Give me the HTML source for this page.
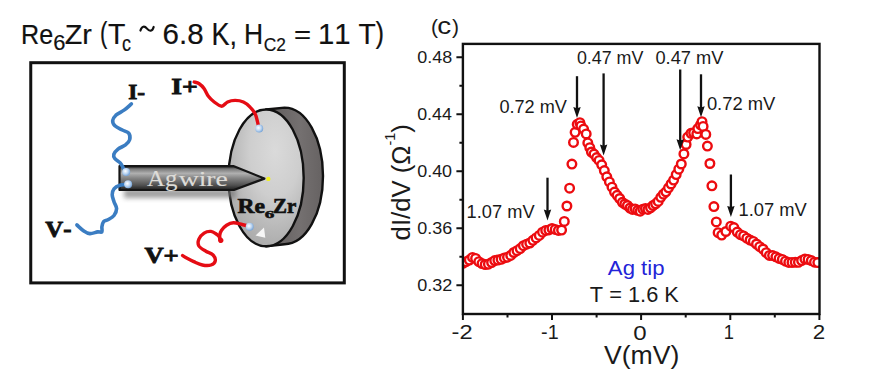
<!DOCTYPE html>
<html><head><meta charset="utf-8"><style>
html,body{margin:0;padding:0;background:#fff;width:892px;height:377px;overflow:hidden}
svg{display:block}
text{font-kerning:none}
</style></head><body>
<svg width="892" height="377" viewBox="0 0 892 377">
<rect width="892" height="377" fill="#fff"/>
<text transform="translate(21.04,43.83) scale(0.8932,1)" font-family='"Liberation Sans",sans-serif' font-size="28.09" fill="#111" stroke="#111" stroke-width="0.2">Re</text>
<text transform="translate(53.29,50.39) scale(1.0129,1)" font-family='"Liberation Sans",sans-serif' font-size="21.61" fill="#111" stroke="#111" stroke-width="0.2">6</text>
<text transform="translate(64.79,43.90) scale(1.0178,1)" font-family='"Liberation Sans",sans-serif' font-size="28.20" fill="#111" stroke="#111" stroke-width="0.2">Zr</text>
<text transform="translate(99.92,43.38) scale(0.7404,1)" font-family='"Liberation Sans",sans-serif' font-size="30.05" fill="#111" stroke="#111" stroke-width="0.2">(</text>
<text transform="translate(107.96,44.00) scale(0.9894,1)" font-family='"Liberation Sans",sans-serif' font-size="28.78" fill="#111" stroke="#111" stroke-width="0.2">T</text>
<text transform="translate(122.03,50.59) scale(0.8399,1)" font-family='"Liberation Sans",sans-serif' font-size="21.54" fill="#111" stroke="#111" stroke-width="0.2">c</text>
<text transform="translate(162.60,44.02) scale(1.0207,1)" font-family='"Liberation Sans",sans-serif' font-size="28.95" fill="#111" stroke="#111" stroke-width="0.2">6.8</text>
<text transform="translate(211.38,44.60) scale(0.8860,1)" font-family='"Liberation Sans",sans-serif' font-size="30.52" fill="#111" stroke="#111" stroke-width="0.2">K,</text>
<text transform="translate(244.03,44.00) scale(0.9114,1)" font-family='"Liberation Sans",sans-serif' font-size="29.07" fill="#111" stroke="#111" stroke-width="0.2">H</text>
<text transform="translate(263.82,50.62) scale(0.9438,1)" font-family='"Liberation Sans",sans-serif' font-size="18.36" fill="#111" stroke="#111" stroke-width="0.2">C2</text>
<text transform="translate(294.07,43.48) scale(1.0952,1)" font-family='"Liberation Sans",sans-serif' font-size="26.69" fill="#111" stroke="#111" stroke-width="0.2">=</text>
<text transform="translate(317.96,44.00) scale(1.0104,1)" font-family='"Liberation Sans",sans-serif' font-size="29.07" fill="#111" stroke="#111" stroke-width="0.2">11</text>
<text transform="translate(358.46,44.00) scale(0.9832,1)" font-family='"Liberation Sans",sans-serif' font-size="28.78" fill="#111" stroke="#111" stroke-width="0.2">T</text>
<text transform="translate(375.55,43.48) scale(0.8817,1)" font-family='"Liberation Sans",sans-serif' font-size="29.09" fill="#111" stroke="#111" stroke-width="0.2">)</text>
<path d="M140.4,30.6 C141.8,25.8 144.6,25.6 147,28.6 C149.4,31.6 152.4,31.6 153.7,26.9" fill="none" stroke="#111" stroke-width="2.1" stroke-linecap="round"/>
<rect x="30.75" y="62.7" width="313.55" height="220.2" fill="none" stroke="#111" stroke-width="3"/>
<defs>
<radialGradient id="face" cx="0.62" cy="0.3" r="0.85" fx="0.62" fy="0.3">
<stop offset="0" stop-color="#dadada"/><stop offset="0.4" stop-color="#cecece"/><stop offset="0.7" stop-color="#b6b6b6"/><stop offset="1" stop-color="#a0a0a0"/>
</radialGradient>
<linearGradient id="rim" x1="0" y1="0" x2="1" y2="0">
<stop offset="0" stop-color="#605c5c"/><stop offset="0.6" stop-color="#747070"/><stop offset="1" stop-color="#666262"/>
</linearGradient>
<linearGradient id="wire" x1="0" y1="0" x2="0" y2="1">
<stop offset="0" stop-color="#222"/><stop offset="0.12" stop-color="#7a7a7a"/><stop offset="0.3" stop-color="#b0b0b0"/><stop offset="0.5" stop-color="#858585"/><stop offset="0.8" stop-color="#505050"/><stop offset="1" stop-color="#1e1e1e"/>
</linearGradient>
<radialGradient id="dot" cx="0.4" cy="0.4" r="0.6">
<stop offset="0" stop-color="#ffffff"/><stop offset="0.6" stop-color="#b9d3f0"/><stop offset="1" stop-color="#7aa6d8"/>
</radialGradient>
<filter id="blur2" x="-20%" y="-50%" width="140%" height="200%"><feGaussianBlur stdDeviation="2.5"/></filter>
</defs>
<path d="M266.1,109.5 L284.5,107.6 A38.5,68.3 0 0 1 284.5,244.2 L266.1,246.3 Z" fill="url(#rim)" stroke="#111" stroke-width="2.4" stroke-linejoin="round"/>
<ellipse cx="266.1" cy="177.9" rx="37.6" ry="68.4" fill="url(#face)" stroke="#111" stroke-width="2.4"/>
<path d="M255.5,235.5 L264,227.5 L265.3,237.8 Z" fill="#f6f6f6"/>
<rect x="124" y="189" width="112" height="9" fill="#777" opacity="0.7" filter="url(#blur2)"/>
<path d="M119.5,166.2 L233.9,166.2 L264.4,178.6 L233.9,190 L119.5,190 Z" fill="url(#wire)" stroke="#151515" stroke-width="2.2" stroke-linejoin="round"/>
<circle cx="268.3" cy="178.9" r="2.2" fill="#f0f020"/>
<text transform="translate(147.06,186.30) scale(1.0494,1)" font-family='"Liberation Serif",serif' font-size="23.72" fill="#dedcd8" stroke="#dedcd8" stroke-width="0.15">Ag</text>
<text transform="translate(178.67,186.30) scale(1.3221,1)" font-family='"Liberation Serif",serif' font-size="20.94" fill="#dedcd8" stroke="#dedcd8" stroke-width="0.15">wire</text>
<path d="M131.4,103.9 C130.2,104.9 127.0,108.0 124.4,109.9 C121.8,111.8 117.9,113.4 115.9,115.2 C114.0,117.0 112.9,118.7 112.7,120.5 C112.5,122.3 113.3,124.2 114.9,125.8 C116.5,127.4 120.0,128.8 122.3,130.0 C124.6,131.2 127.5,131.6 128.7,133.2 C129.9,134.8 130.2,137.6 129.7,139.6 C129.2,141.6 127.5,143.3 125.5,144.9 C123.5,146.5 120.0,147.5 118.0,149.1 C116.0,150.7 114.3,152.8 113.8,154.4 C113.3,156.0 113.8,157.3 114.9,158.7 C116.0,160.1 118.8,161.3 120.2,162.9 C121.6,164.5 122.5,166.8 123.4,168.2 C124.3,169.5 125.2,170.5 125.5,171.0" fill="none" stroke="#3b7dc2" stroke-width="3.6" stroke-linecap="round" stroke-linejoin="round"/>
<path d="M126.9,184.5 C125.8,184.6 122.2,184.6 120.0,185.3 C117.8,186.0 115.3,187.2 114.0,188.8 C112.7,190.4 112.2,192.7 112.2,194.8 C112.2,197.0 113.3,199.4 114.0,201.7 C114.7,204.0 116.6,206.3 116.6,208.6 C116.6,210.9 115.5,213.6 114.0,215.5 C112.5,217.4 109.6,218.8 107.9,219.8 C106.2,220.8 104.6,220.4 103.6,221.6 C102.6,222.8 102.2,225.0 101.9,226.7 C101.6,228.4 102.6,231.0 101.9,231.9 C101.2,232.8 99.6,231.6 97.6,231.9 C95.6,232.2 92.1,233.8 89.8,233.6 C87.5,233.4 85.9,232.4 83.8,231.0 C81.7,229.6 78.1,226.0 76.9,225.0" fill="none" stroke="#3b7dc2" stroke-width="3.6" stroke-linecap="round" stroke-linejoin="round"/>
<path d="M194.2,82.0 C195.0,82.3 197.5,82.6 199.2,83.7 C200.9,84.8 202.7,86.6 204.2,88.7 C205.7,90.8 206.7,94.0 208.4,96.2 C210.1,98.4 212.0,100.3 214.2,102.0 C216.4,103.7 219.5,106.2 221.7,106.2 C223.9,106.2 225.4,103.0 227.6,102.0 C229.8,101.0 232.5,100.4 235.1,100.4 C237.7,100.4 240.9,100.9 243.4,102.0 C245.9,103.1 248.2,105.1 250.1,107.1 C252.0,109.0 253.8,111.2 255.1,113.7 C256.4,116.2 257.0,119.9 257.6,122.1 C258.2,124.3 258.4,126.3 258.5,127.1" fill="none" stroke="#e50c14" stroke-width="3.4" stroke-linecap="round" stroke-linejoin="round"/>
<path d="M249.0,226.2 C247.8,225.9 244.6,225.1 242.0,224.5 C239.4,223.9 236.0,222.7 233.4,222.8 C230.8,222.9 228.6,224.0 226.6,225.3 C224.6,226.6 222.6,228.8 221.4,230.5 C220.2,232.2 219.8,234.0 219.7,235.7 C219.5,237.4 220.4,240.0 220.5,240.9" fill="none" stroke="#e50c14" stroke-width="3.4" stroke-linecap="round" stroke-linejoin="round"/>
<path d="M220.5,240.9 C220.2,240.2 219.7,237.7 219.0,236.5 C218.3,235.3 217.5,234.8 216.2,234.0 C214.9,233.2 213.0,231.6 211.0,231.4 C209.0,231.2 206.1,231.8 204.1,233.1 C202.1,234.4 199.8,236.9 198.9,239.1 C198.0,241.2 197.8,244.0 198.9,246.0 C200.1,248.0 203.5,249.8 205.8,251.2 C208.1,252.6 211.2,253.1 212.8,254.7 C214.4,256.3 215.6,259.0 215.3,260.7 C215.0,262.4 213.2,264.3 211.0,265.0 C208.8,265.7 205.3,265.6 202.4,265.0 C199.5,264.4 196.7,262.9 193.8,261.6 C190.9,260.3 187.1,258.2 185.2,257.2 C183.3,256.2 183.0,255.8 182.6,255.5" fill="none" stroke="#e50c14" stroke-width="3.4" stroke-linecap="round" stroke-linejoin="round"/>
<circle cx="220.8" cy="240.3" r="2.6" fill="#e50c14"/>
<circle cx="126.2" cy="171.9" r="4" fill="url(#dot)"/>
<circle cx="128.1" cy="184.3" r="4" fill="url(#dot)"/>
<circle cx="259.2" cy="128.6" r="4" fill="url(#dot)"/>
<circle cx="249.7" cy="226.8" r="4" fill="url(#dot)"/>
<text transform="translate(128.21,98.90) scale(1.0984,1)" font-family='"Liberation Serif",serif' font-weight="bold" font-size="21.23" fill="#111" stroke="#111" stroke-width="0.8">I-</text>
<text transform="translate(171.17,94.20) scale(1.2131,1)" font-family='"Liberation Serif",serif' font-weight="bold" font-size="22.76" fill="#111" stroke="#111" stroke-width="0.8">I+</text>
<text transform="translate(45.32,237.00) scale(1.1055,1)" font-family='"Liberation Serif",serif' font-weight="bold" font-size="22.45" fill="#111" stroke="#111" stroke-width="0.8">V-</text>
<text transform="translate(144.40,263.40) scale(1.1776,1)" font-family='"Liberation Serif",serif' font-weight="bold" font-size="22.60" fill="#111" stroke="#111" stroke-width="0.8">V+</text>
<text transform="translate(237.50,213.20) scale(1.0730,1)" font-family='"Liberation Serif",serif' font-weight="bold" font-size="21.99" fill="#111" stroke="#111" stroke-width="0.7">Re</text>
<text transform="translate(264.65,218.40) scale(1.7013,1)" font-family='"Liberation Serif",serif' font-weight="bold" font-size="11.18" fill="#111" stroke="#111" stroke-width="0.5">6</text>
<text transform="translate(273.10,213.20) scale(0.9518,1)" font-family='"Liberation Serif",serif' font-weight="bold" font-size="21.99" fill="#111" stroke="#111" stroke-width="0.7">Zr</text>
<clipPath id="plotclip"><rect x="462.9" y="43.9" width="356.6" height="270.1"/></clipPath>
<g clip-path="url(#plotclip)" fill="#fff" stroke="#ec0c10" stroke-width="2.4"><circle cx="462.9" cy="263.3" r="4.3"/><circle cx="466.1" cy="261.7" r="4.3"/><circle cx="469.3" cy="260.1" r="4.3"/><circle cx="472.5" cy="257.4" r="4.3"/><circle cx="475.6" cy="258.4" r="4.3"/><circle cx="478.8" cy="261.7" r="4.3"/><circle cx="482.0" cy="263.6" r="4.3"/><circle cx="485.2" cy="264.5" r="4.3"/><circle cx="488.4" cy="264.2" r="4.3"/><circle cx="491.6" cy="262.5" r="4.3"/><circle cx="494.7" cy="260.6" r="4.3"/><circle cx="497.9" cy="260.1" r="4.3"/><circle cx="501.1" cy="259.3" r="4.3"/><circle cx="504.3" cy="257.9" r="4.3"/><circle cx="507.5" cy="257.2" r="4.3"/><circle cx="510.7" cy="255.4" r="4.3"/><circle cx="513.8" cy="252.5" r="4.3"/><circle cx="517.0" cy="250.7" r="4.3"/><circle cx="520.2" cy="248.6" r="4.3"/><circle cx="523.4" cy="245.7" r="4.3"/><circle cx="526.6" cy="244.2" r="4.3"/><circle cx="529.8" cy="243.0" r="4.3"/><circle cx="532.9" cy="240.3" r="4.3"/><circle cx="536.1" cy="237.9" r="4.3"/><circle cx="539.3" cy="235.4" r="4.3"/><circle cx="542.5" cy="232.2" r="4.3"/><circle cx="545.7" cy="230.4" r="4.3"/><circle cx="548.9" cy="229.9" r="4.3"/><circle cx="552.0" cy="228.5" r="4.3"/><circle cx="555.2" cy="229.4" r="4.3"/><circle cx="558.4" cy="230.4" r="4.3"/><circle cx="561.6" cy="230.1" r="4.3"/><circle cx="564.3" cy="221.4" r="4.3"/><circle cx="566.9" cy="206.0" r="4.3"/><circle cx="569.6" cy="188.2" r="4.3"/><circle cx="571.9" cy="164.1" r="4.3"/><circle cx="573.5" cy="142.4" r="4.3"/><circle cx="575.1" cy="132.3" r="4.3"/><circle cx="577.2" cy="124.3" r="4.3"/><circle cx="579.9" cy="122.7" r="4.3"/><circle cx="580.9" cy="125.9" r="4.3"/><circle cx="583.6" cy="129.1" r="4.3"/><circle cx="586.2" cy="133.9" r="4.3"/><circle cx="587.8" cy="142.9" r="4.3"/><circle cx="589.8" cy="147.7" r="4.3"/><circle cx="591.4" cy="152.0" r="4.3"/><circle cx="594.0" cy="154.1" r="4.3"/><circle cx="596.6" cy="157.6" r="4.3"/><circle cx="599.1" cy="160.4" r="4.3"/><circle cx="601.7" cy="164.8" r="4.3"/><circle cx="604.3" cy="170.6" r="4.3"/><circle cx="606.8" cy="176.8" r="4.3"/><circle cx="609.4" cy="181.9" r="4.3"/><circle cx="612.0" cy="187.2" r="4.3"/><circle cx="614.5" cy="192.1" r="4.3"/><circle cx="617.1" cy="195.3" r="4.3"/><circle cx="619.7" cy="198.5" r="4.3"/><circle cx="622.3" cy="202.3" r="4.3"/><circle cx="624.8" cy="204.0" r="4.3"/><circle cx="627.4" cy="205.5" r="4.3"/><circle cx="630.0" cy="208.0" r="4.3"/><circle cx="632.5" cy="209.4" r="4.3"/><circle cx="635.1" cy="208.9" r="4.3"/><circle cx="637.7" cy="210.3" r="4.3"/><circle cx="640.2" cy="211.2" r="4.3"/><circle cx="642.8" cy="209.2" r="4.3"/><circle cx="645.4" cy="208.6" r="4.3"/><circle cx="647.9" cy="209.4" r="4.3"/><circle cx="650.5" cy="207.8" r="4.3"/><circle cx="653.1" cy="205.5" r="4.3"/><circle cx="655.6" cy="203.8" r="4.3"/><circle cx="658.2" cy="201.4" r="4.3"/><circle cx="660.8" cy="197.3" r="4.3"/><circle cx="663.4" cy="194.2" r="4.3"/><circle cx="665.9" cy="191.8" r="4.3"/><circle cx="668.5" cy="187.8" r="4.3"/><circle cx="671.1" cy="184.0" r="4.3"/><circle cx="673.6" cy="180.1" r="4.3"/><circle cx="676.2" cy="174.6" r="4.3"/><circle cx="678.8" cy="169.2" r="4.3"/><circle cx="681.3" cy="164.0" r="4.3"/><circle cx="683.9" cy="153.9" r="4.3"/><circle cx="686.1" cy="144.5" r="4.3"/><circle cx="687.7" cy="137.1" r="4.3"/><circle cx="690.9" cy="133.3" r="4.3"/><circle cx="693.6" cy="132.8" r="4.3"/><circle cx="696.8" cy="133.9" r="4.3"/><circle cx="697.8" cy="128.6" r="4.3"/><circle cx="700.5" cy="124.9" r="4.3"/><circle cx="702.0" cy="121.7" r="4.3"/><circle cx="703.1" cy="126.4" r="4.3"/><circle cx="705.8" cy="134.4" r="4.3"/><circle cx="707.4" cy="146.1" r="4.3"/><circle cx="709.9" cy="163.5" r="4.3"/><circle cx="711.9" cy="185.8" r="4.3"/><circle cx="713.9" cy="206.6" r="4.3"/><circle cx="716.3" cy="221.9" r="4.3"/><circle cx="718.1" cy="232.7" r="4.3"/><circle cx="721.7" cy="235.1" r="4.3"/><circle cx="725.9" cy="231.5" r="4.3"/><circle cx="730.7" cy="226.2" r="4.3"/><circle cx="733.9" cy="227.6" r="4.3"/><circle cx="737.2" cy="232.1" r="4.3"/><circle cx="740.4" cy="234.7" r="4.3"/><circle cx="743.6" cy="235.9" r="4.3"/><circle cx="746.8" cy="238.2" r="4.3"/><circle cx="750.1" cy="240.0" r="4.3"/><circle cx="753.3" cy="241.4" r="4.3"/><circle cx="756.5" cy="244.0" r="4.3"/><circle cx="759.7" cy="246.7" r="4.3"/><circle cx="763.0" cy="249.0" r="4.3"/><circle cx="766.2" cy="252.7" r="4.3"/><circle cx="769.4" cy="255.4" r="4.3"/><circle cx="772.6" cy="255.6" r="4.3"/><circle cx="775.9" cy="256.8" r="4.3"/><circle cx="779.1" cy="258.4" r="4.3"/><circle cx="782.3" cy="259.4" r="4.3"/><circle cx="785.5" cy="261.2" r="4.3"/><circle cx="788.8" cy="262.4" r="4.3"/><circle cx="792.0" cy="262.4" r="4.3"/><circle cx="795.2" cy="262.3" r="4.3"/><circle cx="798.4" cy="262.3" r="4.3"/><circle cx="801.6" cy="260.6" r="4.3"/><circle cx="804.9" cy="259.0" r="4.3"/><circle cx="808.1" cy="259.4" r="4.3"/><circle cx="811.3" cy="260.6" r="4.3"/><circle cx="814.5" cy="262.2" r="4.3"/><circle cx="817.8" cy="262.6" r="4.3"/></g>
<rect x="462.9" y="43.9" width="356.6" height="270.1" fill="none" stroke="#111" stroke-width="2.4"/>
<path d="M456.4,57.3H462.9 M456.4,114.3H462.9 M456.4,171.3H462.9 M456.4,228.3H462.9 M456.4,285.3H462.9 M459.4,85.8H462.9 M459.4,142.8H462.9 M459.4,199.8H462.9 M459.4,256.8H462.9 M462.9,314.0V320.0 M552.0,314.0V320.0 M641.1,314.0V320.0 M730.3,314.0V320.0 M819.4,314.0V320.0 M507.5,314.0V317.5 M596.6,314.0V317.5 M685.7,314.0V317.5 M774.8,314.0V317.5" stroke="#111" stroke-width="2" fill="none"/>
<text transform="translate(417.20,62.70) scale(1.0459,1)" font-family='"Liberation Sans",sans-serif' font-size="17.19" fill="#1a1a1a">0.48</text>
<text transform="translate(417.20,119.70) scale(1.0380,1)" font-family='"Liberation Sans",sans-serif' font-size="17.19" fill="#1a1a1a">0.44</text>
<text transform="translate(417.20,176.70) scale(1.0434,1)" font-family='"Liberation Sans",sans-serif' font-size="17.19" fill="#1a1a1a">0.40</text>
<text transform="translate(417.20,233.70) scale(1.0461,1)" font-family='"Liberation Sans",sans-serif' font-size="17.19" fill="#1a1a1a">0.36</text>
<text transform="translate(417.20,290.70) scale(1.0497,1)" font-family='"Liberation Sans",sans-serif' font-size="17.19" fill="#1a1a1a">0.32</text>
<text transform="translate(451.55,339.20) scale(1.1715,1)" font-family='"Liberation Sans",sans-serif' font-size="20.20" fill="#1a1a1a">-2</text>
<text transform="translate(541.12,339.20) scale(0.9765,1)" font-family='"Liberation Sans",sans-serif' font-size="20.20" fill="#1a1a1a">-1</text>
<text transform="translate(633.26,339.50) scale(1.1665,1)" font-family='"Liberation Sans",sans-serif' font-size="20.62" fill="#1a1a1a">0</text>
<text transform="translate(723.70,339.20) scale(0.8940,1)" font-family='"Liberation Sans",sans-serif' font-size="20.49" fill="#1a1a1a">1</text>
<text transform="translate(812.67,339.20) scale(1.1088,1)" font-family='"Liberation Sans",sans-serif' font-size="20.19" fill="#1a1a1a">2</text>
<text transform="translate(603.88,363.60) scale(1.0656,1)" font-family='"Liberation Sans",sans-serif' font-size="25.00" fill="#1a1a1a">V(mV)</text>
<g transform="translate(409.5,240.4) rotate(-90) scale(1.028,1)"><text x="0" y="0" font-family='"Liberation Sans",sans-serif' font-size="25.0" fill="#1a1a1a">dI/dV (&#937;<tspan font-size="14" dy="-15">-1</tspan><tspan dy="15">)</tspan></text></g>
<text x="431" y="34" font-family='"Liberation Sans",sans-serif' font-size="21" fill="#1a1a1a">(</text>
<text transform="translate(437.32,33.80) scale(1.1609,1)" font-family='"Liberation Sans",sans-serif' font-size="23.97" fill="#1a1a1a">c</text>
<text x="452" y="34" font-family='"Liberation Sans",sans-serif' font-size="21" fill="#1a1a1a">)</text>
<text transform="translate(499.39,112.60) scale(0.9528,1)" font-family='"Liberation Sans",sans-serif' font-size="19.05" fill="#1a1a1a">0.72 mV</text>
<text transform="translate(576.90,64.20) scale(1.0067,1)" font-family='"Liberation Sans",sans-serif' font-size="17.76" fill="#1a1a1a">0.47 mV</text>
<text transform="translate(655.39,64.20) scale(1.0296,1)" font-family='"Liberation Sans",sans-serif' font-size="17.76" fill="#1a1a1a">0.47 mV</text>
<text transform="translate(706.88,110.20) scale(0.9956,1)" font-family='"Liberation Sans",sans-serif' font-size="18.47" fill="#1a1a1a">0.72 mV</text>
<text transform="translate(466.61,217.50) scale(1.0035,1)" font-family='"Liberation Sans",sans-serif' font-size="18.19" fill="#1a1a1a">1.07 mV</text>
<text transform="translate(738.50,215.60) scale(0.9713,1)" font-family='"Liberation Sans",sans-serif' font-size="18.90" fill="#1a1a1a">1.07 mV</text>
<text transform="translate(607.86,274.70) scale(1.0589,1)" font-family='"Liberation Sans",sans-serif' font-size="20.93" fill="#2424d8">Ag tip</text>
<text transform="translate(589.81,301.70) scale(1.0142,1)" font-family='"Liberation Sans",sans-serif' font-size="21.51" fill="#1a1a1a">T = 1.6 K</text>
<path d="M577.0,76.2V111.0" stroke="#111" stroke-width="2.3"/>
<path d="M573.3,107.0L577.0,118.0L580.7,107.0L577.0,108.2Z" fill="#111"/>
<path d="M603.6,73.4V148.5" stroke="#111" stroke-width="2.3"/>
<path d="M599.9,144.5L603.6,155.5L607.3000000000001,144.5L603.6,145.7Z" fill="#111"/>
<path d="M680.2,69.5V143.2" stroke="#111" stroke-width="2.3"/>
<path d="M676.5,139.2L680.2,150.2L683.9000000000001,139.2L680.2,140.39999999999998Z" fill="#111"/>
<path d="M701.0,74.3V110.3" stroke="#111" stroke-width="2.3"/>
<path d="M697.3,106.3L701.0,117.3L704.7,106.3L701.0,107.5Z" fill="#111"/>
<path d="M547.5,177.7V213.6" stroke="#111" stroke-width="2.3"/>
<path d="M543.8,209.6L547.5,220.6L551.2,209.6L547.5,210.79999999999998Z" fill="#111"/>
<path d="M730.9,174.5V209.9" stroke="#111" stroke-width="2.3"/>
<path d="M727.1999999999999,205.9L730.9,216.9L734.6,205.9L730.9,207.1Z" fill="#111"/>
</svg></body></html>
